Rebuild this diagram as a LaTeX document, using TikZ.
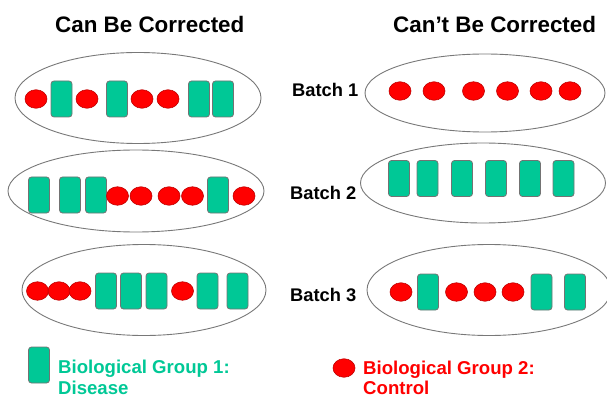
\documentclass[tikz,border=0pt]{standalone}
\usepackage{fontspec}
\setmainfont{Liberation Sans}
\usetikzlibrary{shapes.geometric}
\definecolor{disteal}{RGB}{0,200,150}
\definecolor{ctlred}{RGB}{255,0,0}
\definecolor{rimgray}{RGB}{120,120,120}
\tikzset{
  batchring/.style={draw=rimgray, line width=0.9pt, ellipse, inner sep=0pt},
  disbox/.style={rectangle, rounded corners=3pt, fill=disteal, draw=black!55,
                 line width=0.8pt, minimum width=21pt, minimum height=36pt, inner sep=0pt},
  ctldot/.style={ellipse, fill=ctlred, draw=red!75!black, line width=0.6pt,
                 minimum width=22pt, minimum height=18.5pt, inner sep=0pt},
  heading/.style={font=\bfseries\fontsize{22.4}{26}\selectfont, anchor=base west, inner sep=0pt},
  batchlbl/.style={font=\bfseries\fontsize{18.3}{22}\selectfont, anchor=base west, inner sep=0pt},
  legtext/.style={font=\bfseries\fontsize{18.6}{22}\selectfont, anchor=base west, inner sep=0pt},
}
\begin{document}
\begin{tikzpicture}[x=1pt,y=-1pt]
\useasboundingbox (0,0) rectangle (607,398);

% column headings
\node[heading] (hleft)  at (55,33)  {Can Be Corrected};
\node[heading] (hright) at (393,33) {Can’t Be Corrected};

% batch labels
\node[batchlbl] (b1) at (292,97)  {Batch 1};
\node[batchlbl] (b2) at (290,199) {Batch 2};
\node[batchlbl] (b3) at (290,301) {Batch 3};

% batch outlines, balanced design (left)
\node[batchring, minimum width=246pt, minimum height=91pt] (L1) at (138,98)  {};
\node[batchring, minimum width=256pt, minimum height=82pt] (L2) at (136,191) {};
\node[batchring, minimum width=244pt, minimum height=91pt] (L3) at (144,290) {};

% batch outlines, confounded design (right)
\node[batchring, minimum width=240pt, minimum height=78pt] (R1) at (485,93)  {};
\node[batchring, minimum width=245pt, minimum height=80pt] (R2) at (483,183) {};
\node[batchring, minimum width=244pt, minimum height=91pt] (R3) at (489,290) {};

% left batch 1
\foreach \x [count=\i] in {36,87,142,168} \node[ctldot] (l1c\i) at (\x,99) {};
\foreach \x [count=\i] in {61.5,117,199,223} \node[disbox] (l1d\i) at (\x,99) {};

% left batch 2
\foreach \x [count=\i] in {39,70,96,218} \node[disbox] (l2d\i) at (\x,195) {};
\foreach \x [count=\i] in {117.5,141,169,192.5,244} \node[ctldot] (l2c\i) at (\x,196) {};

% left batch 3
\foreach \x [count=\i] in {37.5,59,80,182.5} \node[ctldot] (l3c\i) at (\x,291) {};
\foreach \x [count=\i] in {106,131,156.5,207.5,237.5} \node[disbox] (l3d\i) at (\x,291) {};

% right batch 1: controls only
\foreach \x [count=\i] in {400,434,473.5,507.5,541,570} \node[ctldot] (r1c\i) at (\x,91) {};

% right batch 2: disease only
\foreach \x [count=\i] in {399,427.5,462,496,530,563.5} \node[disbox] (r2d\i) at (\x,178.5) {};

% right batch 3
\foreach \x [count=\i] in {401,456.5,485,513} \node[ctldot] (r3c\i) at (\x,292) {};
\foreach \x [count=\i] in {428,541.5,575} \node[disbox] (r3d\i) at (\x,292) {};

% legend
\node[disbox] (keyd) at (39,365) {};
\node[legtext, text=disteal] (keydA) at (58,373) {Biological Group 1:};
\node[legtext, text=disteal] (keydB) at (58,394.5) {Disease};
\node[ctldot] (keyc) at (344,368) {};
\node[legtext, text=ctlred] (keycA) at (363,374) {Biological Group 2:};
\node[legtext, text=ctlred] (keycB) at (363,394.5) {Control};
\end{tikzpicture}
\end{document}
